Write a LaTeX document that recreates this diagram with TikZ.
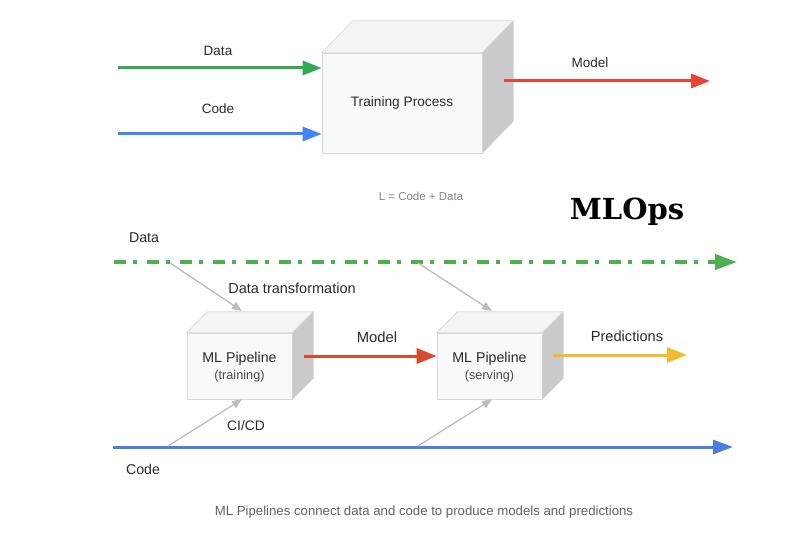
\documentclass[tikz,border=0pt]{standalone}
\usepackage{fontspec}
\setmainfont{Liberation Sans}
\newfontfamily\titlefont{DejaVu Serif}
\usetikzlibrary{arrows.meta,calc}
\definecolor{gGreen}{HTML}{34A853}
\definecolor{gGreenD}{HTML}{4CAF50}
\definecolor{gBlue}{HTML}{4285F4}
\definecolor{gBlueD}{HTML}{4A7FE0}
\definecolor{gRed}{HTML}{EA4335}
\definecolor{gRedD}{HTML}{DB4A2B}
\definecolor{gYellow}{HTML}{F2BC2E}
\definecolor{front}{HTML}{F8F9FA}
\definecolor{topc}{HTML}{F3F4F5}
\definecolor{sidec}{HTML}{C9CACB}
\definecolor{edge}{HTML}{D6D8DB}
\definecolor{txt}{HTML}{2A2A2A}
\definecolor{arrgray}{HTML}{BDBDBD}
\definecolor{captc}{HTML}{5F6368}
\definecolor{formc}{HTML}{80868B}
\newcommand\cubefaces[3]{%
  \path[fill=topc,draw=edge,line width=0.6pt] (#1.north west) -- ++(#2,#3) -- ($(#1.north east)+(#2,#3)$) -- (#1.north east) -- cycle;
  \path[fill=sidec,draw=edge,line width=0.6pt] (#1.north east) -- ($(#1.north east)+(#2,#3)$) -- ($(#1.south east)+(#2,#3)$) -- (#1.south east) -- cycle;}
\begin{document}
\begin{tikzpicture}[x=1pt,y=-1pt,
  face/.style={draw=edge, line width=0.6pt, fill=front, inner sep=0pt, align=center, text=txt},
  lbl/.style={text=txt, inner sep=0pt, font=\fontsize{13.5}{16}\selectfont},
  bigarrow/.style={line width=3pt, -{Triangle[length=19pt,width=14pt]}},
  grayarrow/.style={draw=arrgray, line width=1.3pt, -{Triangle[length=10pt,width=8pt]}},
]
\useasboundingbox[fill=white] (0,0) rectangle (800,553);

% ---------- top: training process ----------
\node[face, minimum width=160pt, minimum height=100pt, font=\fontsize{13.7}{16}\selectfont] (tp) at (402,103) {Training Process};
\cubefaces{tp}{31}{-32}

\coordinate (d0) at (118,68);
\coordinate (c0) at (118,134);
\draw[gGreen, bigarrow] (d0) -- (d0 -| tp.west);
\draw[gBlue, bigarrow] (c0) -- (c0 -| tp.west);
\node[lbl] (ldata) at (218,51) {Data};
\node[lbl] (lcode) at (218,109) {Code};

\coordinate (m0) at (504,81);
\coordinate (m1) at (710,81);
\draw[gRed, bigarrow] (m0) -- (m1);
\node[lbl] (lmodel) at (590,63) {Model};

\node[text=formc, inner sep=0pt, font=\fontsize{11.5}{14}\selectfont] (formula) at (421,196) {L = Code + Data};

% ---------- MLOps title ----------
\node[text=black, inner sep=0pt, font=\titlefont\bfseries\fontsize{29}{34}\selectfont] (mlops) at (627,212) {MLOps};

% ---------- bottom: pipelines ----------
\node[lbl, font=\fontsize{14.2}{16}\selectfont] (bdata) at (144,238) {Data};
\coordinate (dl0) at (114,262);
\coordinate (dl1) at (737,262);
\draw[gGreenD, line width=4pt, dash pattern=on 12pt off 7pt on 4pt off 10pt, -{Triangle[length=22pt,width=15pt]}] (dl0) -- (dl1);

\node[face, minimum width=105pt, minimum height=66pt] (b1) at (239.5,366) {};
\cubefaces{b1}{21}{-21}
\node[lbl, font=\fontsize{14.2}{16}\selectfont] (b1t) at (239.5,359) {ML Pipeline};
\node[lbl, font=\fontsize{12.7}{15}\selectfont, text=txt!85] (b1s) at (239.5,376) {(training)};

\node[face, minimum width=105pt, minimum height=66pt] (b2) at (489.5,366) {};
\cubefaces{b2}{21}{-21}
\node[lbl, font=\fontsize{14.2}{16}\selectfont] (b2t) at (489.5,359) {ML Pipeline};
\node[lbl, font=\fontsize{12.7}{15}\selectfont, text=txt!85] (b2s) at (489.5,376) {(serving)};

% data transformation arrows
\coordinate (t1a) at (170,263);
\coordinate (t1b) at (242,311);
\coordinate (t2a) at (418,263);
\coordinate (t2b) at (492,311);
\draw[grayarrow] (t1a) -- (t1b);
\draw[grayarrow] (t2a) -- (t2b);
\node[lbl, font=\fontsize{14.5}{16}\selectfont] (ltrans) at (292,288) {Data transformation};

% model and predictions
\coordinate (bm0) at (304,356);
\draw[gRedD, line width=3pt, -{Triangle[length=20pt,width=15pt]}] (bm0) -- (bm0 -| b2.west);
\node[lbl, font=\fontsize{14.8}{16}\selectfont] (bmodel) at (377,337) {Model};
\coordinate (p0) at (553,355);
\coordinate (p1) at (687,355);
\draw[gYellow, line width=3pt, -{Triangle[length=20pt,width=15pt]}] (p0) -- (p1);
\node[lbl, font=\fontsize{14.6}{16}\selectfont] (lpred) at (627,336) {Predictions};

% code line and CI/CD arrows
\coordinate (cl0) at (113,447);
\coordinate (cl1) at (733,447);
\draw[gBlueD, line width=3pt, -{Triangle[length=20pt,width=14pt]}] (cl0) -- (cl1);
\node[lbl, font=\fontsize{14.2}{16}\selectfont] (bcode) at (143,469) {Code};
\coordinate (k1a) at (168,446);
\coordinate (k2a) at (418,446);
\draw[grayarrow] (k1a) -- (b1.south -| 242,0);
\draw[grayarrow] (k2a) -- (b2.south -| 492,0);
\node[lbl, font=\fontsize{13.8}{16}\selectfont] (lcicd) at (246,426) {CI/CD};

\node[text=captc, inner sep=0pt, font=\fontsize{13.2}{16}\selectfont] (caption) at (424,512) {ML Pipelines connect data and code to produce models and predictions};
\end{tikzpicture}
\end{document}
